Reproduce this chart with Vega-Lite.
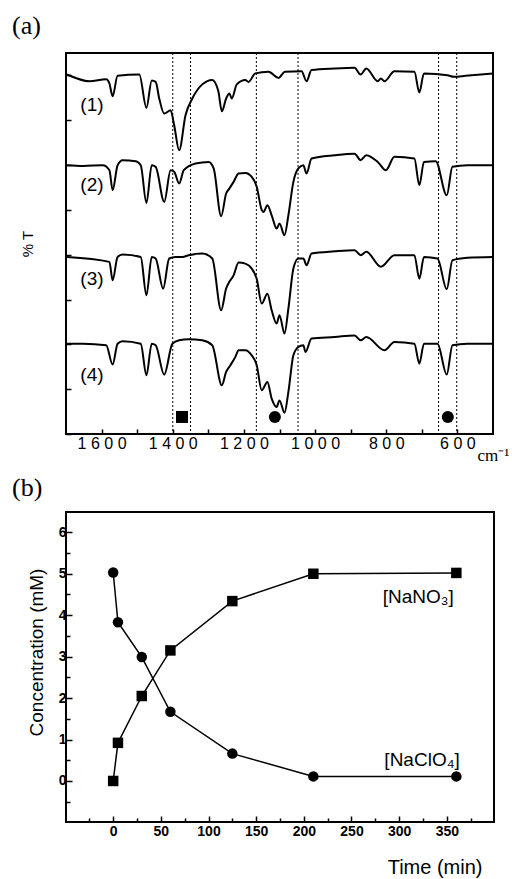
{
"$schema": "https://vega.github.io/schema/vega-lite/v6.json",
"padding": {"left": 11, "top": 11, "right": 0, "bottom": 0},
"spacing": 10,
"config": {"view": {"stroke": "black", "strokeWidth": 2}, "font": "Liberation Sans", "axis": {"grid": false, "domain": false, "tickColor": "black", "labelColor": "black", "titleColor": "black", "tickWidth": 1.5}},
"datasets": {
"spectra": [
{"s":"1","wn":1697,"t":16.04},{"s":"1","wn":1634,"t":15.74},{"s":"1","wn":1587,"t":15.83},{"s":"1","wn":1578,"t":15.64},{"s":"1","wn":1569,"t":15.07},{"s":"1","wn":1555,"t":15.98},{"s":"1","wn":1494,"t":16.04},{"s":"1","wn":1474,"t":14.55},{"s":"1","wn":1459,"t":15.77},{"s":"1","wn":1448,"t":15.71},{"s":"1","wn":1438,"t":14.97},{"s":"1","wn":1424,"t":14.30},{"s":"1","wn":1406,"t":14.44},{"s":"1","wn":1396,"t":13.78},{"s":"1","wn":1382,"t":12.66},{"s":"1","wn":1364,"t":14.23},{"s":"1","wn":1345,"t":14.97},{"s":"1","wn":1317,"t":15.6},{"s":"1","wn":1289,"t":15.8},{"s":"1","wn":1272,"t":15.3},{"s":"1","wn":1262,"t":14.4},{"s":"1","wn":1250,"t":14.97},{"s":"1","wn":1241,"t":15.19},{"s":"1","wn":1234,"t":14.97},{"s":"1","wn":1220,"t":15.6},{"s":"1","wn":1196,"t":15.79},{"s":"1","wn":1187,"t":15.71},{"s":"1","wn":1168,"t":16.09},{"s":"1","wn":1131,"t":16.16},{"s":"1","wn":1103,"t":15.89},{"s":"1","wn":1085,"t":16.16},{"s":"1","wn":1038,"t":16.19},{"s":"1","wn":1024,"t":15.74},{"s":"1","wn":1010,"t":16.24},{"s":"1","wn":945,"t":16.31},{"s":"1","wn":889,"t":16.34},{"s":"1","wn":872,"t":16.04},{"s":"1","wn":856,"t":16.31},{"s":"1","wn":824,"t":15.74},{"s":"1","wn":815,"t":15.86},{"s":"1","wn":805,"t":15.74},{"s":"1","wn":777,"t":16.19},{"s":"1","wn":721,"t":16.16},{"s":"1","wn":707,"t":15.24},{"s":"1","wn":694,"t":16.09},{"s":"1","wn":628,"t":16.01},{"s":"1","wn":610,"t":15.94},{"s":"1","wn":577,"t":15.98},{"s":"1","wn":500,"t":16.09},
{"s":"2","wn":1697,"t":11.99},{"s":"2","wn":1652,"t":11.96},{"s":"2","wn":1597,"t":11.99},{"s":"2","wn":1578,"t":11.77},{"s":"2","wn":1569,"t":10.88},{"s":"2","wn":1555,"t":11.99},{"s":"2","wn":1541,"t":12.22},{"s":"2","wn":1504,"t":12.17},{"s":"2","wn":1490,"t":11.99},{"s":"2","wn":1474,"t":10.31},{"s":"2","wn":1459,"t":11.99},{"s":"2","wn":1448,"t":11.92},{"s":"2","wn":1424,"t":10.36},{"s":"2","wn":1406,"t":11.77},{"s":"2","wn":1396,"t":11.70},{"s":"2","wn":1382,"t":11.18},{"s":"2","wn":1369,"t":11.77},{"s":"2","wn":1336,"t":12.07},{"s":"2","wn":1299,"t":12.14},{"s":"2","wn":1285,"t":11.85},{"s":"2","wn":1264,"t":9.72},{"s":"2","wn":1250,"t":10.73},{"s":"2","wn":1241,"t":10.95},{"s":"2","wn":1229,"t":11.25},{"s":"2","wn":1215,"t":11.62},{"s":"2","wn":1196,"t":11.65},{"s":"2","wn":1178,"t":11.47},{"s":"2","wn":1164,"t":11.03},{"s":"2","wn":1150,"t":10.0},{"s":"2","wn":1145,"t":9.91},{"s":"2","wn":1134,"t":10.21},{"s":"2","wn":1122,"t":9.76},{"s":"2","wn":1108,"t":9.17},{"s":"2","wn":1100,"t":9.39},{"s":"2","wn":1086,"t":8.87},{"s":"2","wn":1075,"t":9.76},{"s":"2","wn":1061,"t":11.25},{"s":"2","wn":1047,"t":11.85},{"s":"2","wn":1033,"t":11.99},{"s":"2","wn":1024,"t":11.62},{"s":"2","wn":1010,"t":12.29},{"s":"2","wn":945,"t":12.44},{"s":"2","wn":889,"t":12.51},{"s":"2","wn":872,"t":12.22},{"s":"2","wn":856,"t":12.44},{"s":"2","wn":824,"t":12.14},{"s":"2","wn":801,"t":11.77},{"s":"2","wn":777,"t":12.37},{"s":"2","wn":721,"t":12.29},{"s":"2","wn":707,"t":11.10},{"s":"2","wn":694,"t":12.14},{"s":"2","wn":661,"t":12.17},{"s":"2","wn":630,"t":10.65},{"s":"2","wn":614,"t":11.92},{"s":"2","wn":572,"t":11.99},{"s":"2","wn":500,"t":11.99},
{"s":"3","wn":1697,"t":7.90},{"s":"3","wn":1578,"t":7.68},{"s":"3","wn":1569,"t":6.86},{"s":"3","wn":1555,"t":7.90},{"s":"3","wn":1541,"t":8.01},{"s":"3","wn":1490,"t":7.90},{"s":"3","wn":1474,"t":6.19},{"s":"3","wn":1459,"t":7.90},{"s":"3","wn":1448,"t":7.83},{"s":"3","wn":1427,"t":6.49},{"s":"3","wn":1410,"t":7.83},{"s":"3","wn":1392,"t":7.90},{"s":"3","wn":1373,"t":7.90},{"s":"3","wn":1355,"t":7.98},{"s":"3","wn":1317,"t":8.05},{"s":"3","wn":1289,"t":7.83},{"s":"3","wn":1264,"t":5.52},{"s":"3","wn":1250,"t":6.49},{"s":"3","wn":1241,"t":6.79},{"s":"3","wn":1229,"t":7.08},{"s":"3","wn":1215,"t":7.65},{"s":"3","wn":1196,"t":7.60},{"s":"3","wn":1178,"t":7.38},{"s":"3","wn":1164,"t":6.93},{"s":"3","wn":1150,"t":5.82},{"s":"3","wn":1134,"t":6.26},{"s":"3","wn":1122,"t":5.52},{"s":"3","wn":1108,"t":4.93},{"s":"3","wn":1100,"t":5.30},{"s":"3","wn":1086,"t":4.48},{"s":"3","wn":1075,"t":5.60},{"s":"3","wn":1061,"t":7.38},{"s":"3","wn":1047,"t":7.83},{"s":"3","wn":1033,"t":7.83},{"s":"3","wn":1024,"t":7.53},{"s":"3","wn":1010,"t":8.05},{"s":"3","wn":945,"t":8.15},{"s":"3","wn":889,"t":8.20},{"s":"3","wn":872,"t":7.98},{"s":"3","wn":856,"t":8.13},{"s":"3","wn":815,"t":7.46},{"s":"3","wn":777,"t":7.98},{"s":"3","wn":721,"t":7.98},{"s":"3","wn":707,"t":6.93},{"s":"3","wn":694,"t":7.90},{"s":"3","wn":656,"t":7.83},{"s":"3","wn":630,"t":6.46},{"s":"3","wn":614,"t":7.75},{"s":"3","wn":572,"t":7.86},{"s":"3","wn":500,"t":7.90},
{"s":"4","wn":1697,"t":4.03},{"s":"4","wn":1652,"t":4.03},{"s":"4","wn":1587,"t":3.96},{"s":"4","wn":1569,"t":3.10},{"s":"4","wn":1555,"t":4.03},{"s":"4","wn":1541,"t":4.14},{"s":"4","wn":1490,"t":4.03},{"s":"4","wn":1474,"t":2.62},{"s":"4","wn":1459,"t":4.03},{"s":"4","wn":1448,"t":3.96},{"s":"4","wn":1424,"t":2.65},{"s":"4","wn":1401,"t":4.03},{"s":"4","wn":1382,"t":4.18},{"s":"4","wn":1355,"t":4.23},{"s":"4","wn":1317,"t":4.18},{"s":"4","wn":1289,"t":3.96},{"s":"4","wn":1262,"t":2.17},{"s":"4","wn":1250,"t":2.77},{"s":"4","wn":1238,"t":3.07},{"s":"4","wn":1224,"t":3.44},{"s":"4","wn":1215,"t":3.74},{"s":"4","wn":1196,"t":3.74},{"s":"4","wn":1178,"t":3.51},{"s":"4","wn":1164,"t":3.07},{"s":"4","wn":1150,"t":1.95},{"s":"4","wn":1134,"t":2.32},{"s":"4","wn":1122,"t":1.58},{"s":"4","wn":1108,"t":1.21},{"s":"4","wn":1100,"t":1.50},{"s":"4","wn":1086,"t":0.95},{"s":"4","wn":1075,"t":1.88},{"s":"4","wn":1061,"t":3.51},{"s":"4","wn":1047,"t":3.88},{"s":"4","wn":1033,"t":3.96},{"s":"4","wn":1027,"t":3.66},{"s":"4","wn":1010,"t":4.26},{"s":"4","wn":945,"t":4.33},{"s":"4","wn":889,"t":4.40},{"s":"4","wn":872,"t":4.18},{"s":"4","wn":856,"t":4.33},{"s":"4","wn":805,"t":3.74},{"s":"4","wn":777,"t":4.11},{"s":"4","wn":721,"t":4.03},{"s":"4","wn":707,"t":3.14},{"s":"4","wn":694,"t":4.03},{"s":"4","wn":656,"t":4.03},{"s":"4","wn":630,"t":2.65},{"s":"4","wn":614,"t":3.96},{"s":"4","wn":572,"t":4.03},{"s":"4","wn":500,"t":4.03}
],
"kinetics": [
{"time":0,"c":0,"sp":"NaNO3"},{"time":5,"c":0.92,"sp":"NaNO3"},{"time":30,"c":2.05,"sp":"NaNO3"},{"time":60,"c":3.15,"sp":"NaNO3"},{"time":125,"c":4.34,"sp":"NaNO3"},{"time":210,"c":5.0,"sp":"NaNO3"},{"time":360,"c":5.02,"sp":"NaNO3"},
{"time":0,"c":5.03,"sp":"NaClO4"},{"time":5,"c":3.83,"sp":"NaClO4"},{"time":30,"c":2.99,"sp":"NaClO4"},{"time":60,"c":1.67,"sp":"NaClO4"},{"time":125,"c":0.66,"sp":"NaClO4"},{"time":210,"c":0.11,"sp":"NaClO4"},{"time":360,"c":0.11,"sp":"NaClO4"}
]
},
"vconcat": [
{
"width": 427, "height": 381,
"title": {"text": "(a)", "anchor": "start", "frame": "group", "dx": -54, "offset": 14, "font": "Liberation Serif", "fontSize": 26, "fontWeight": "normal", "color": "black"},
"layer": [
{"data": {"name": "spectra"}, "mark": {"type": "line", "color": "black", "strokeWidth": 2, "interpolate": "monotone"},
 "encoding": {
  "x": {"field": "wn", "type": "quantitative", "scale": {"domain": [500, 1700], "reverse": true, "nice": false}, "axis": {"values": [600,700,800,900,1000,1100,1200,1300,1400,1500,1600], "labelExpr": "datum.value % 200 == 0 ? join(split(format(datum.value, 'd'), ''), ' ') : ''", "labelOverlap": false, "tickSize": -5, "labelFontSize": 16, "labelPadding": 6, "title": "cm⁻¹", "titleFont": "Liberation Serif", "titleFontSize": 17, "titleFontWeight": "normal", "titleX": 411, "titleY": 26, "titleAlign": "left", "titleBaseline": "alphabetic"}},
  "y": {"field": "t", "type": "quantitative", "scale": {"domain": [0, 17], "nice": false}, "axis": {"values": [0,1,2,3,4,5,6,7,8,9,10,11,12,13,14,15,16,17], "labels": false, "tickSize": -5, "title": "% T", "titleFontSize": 15, "titleFontWeight": "normal", "titlePadding": 30}},
  "detail": {"field": "s"}
 }},
{"data": {"values": [{"wn": 1400}, {"wn": 1350}, {"wn": 1165}, {"wn": 1048}, {"wn": 653}, {"wn": 602}]}, "mark": {"type": "rule", "color": "black", "strokeWidth": 1, "strokeDash": [2, 2]},
 "encoding": {"x": {"field": "wn", "type": "quantitative"}}},
{"data": {"values": [{"wn": 1374, "t": 0.76, "ion": "NO3"}, {"wn": 1113, "t": 0.76, "ion": "ClO4"}, {"wn": 627, "t": 0.76, "ion": "ClO4"}]}, "mark": {"type": "point", "filled": true, "color": "black", "opacity": 1, "size": 144},
 "encoding": {"x": {"field": "wn", "type": "quantitative"}, "y": {"field": "t", "type": "quantitative"}, "shape": {"field": "ion", "type": "nominal", "scale": {"domain": ["NO3", "ClO4"], "range": ["square", "circle"]}, "legend": null}}},
{"data": {"values": [{"wn": 1627, "t": 14.67, "lab": "(1)"}, {"wn": 1627, "t": 11.1, "lab": "(2)"}, {"wn": 1627, "t": 6.9, "lab": "(3)"}, {"wn": 1627, "t": 2.62, "lab": "(4)"}]}, "mark": {"type": "text", "font": "Liberation Sans", "fontSize": 19, "color": "black", "align": "center", "baseline": "middle"},
 "encoding": {"x": {"field": "wn", "type": "quantitative"}, "y": {"field": "t", "type": "quantitative"}, "text": {"field": "lab"}}}
]
},
{
"width": 428, "height": 310,
"title": {"text": "(b)", "anchor": "start", "frame": "group", "dx": -54, "offset": 11, "font": "Liberation Serif", "fontSize": 26, "fontWeight": "normal", "color": "black"},
"resolve": {"axis": {"x": "independent", "y": "independent"}},
"layer": [
{"data": {"name": "kinetics"}, "mark": {"type": "line", "color": "black", "strokeWidth": 1.5},
 "encoding": {
  "x": {"field": "time", "type": "quantitative", "scale": {"domain": [-49.5, 399.5], "nice": false, "zero": false}, "axis": {"tickCount": 8, "format": "d", "tickSize": -6, "labelFontSize": 14, "labelFontWeight": "bold", "labelPadding": 8, "title": "Time (min)", "titleFontSize": 20, "titleFontWeight": "normal", "titleX": 416, "titleY": 45, "titleAlign": "right", "titleBaseline": "middle"}},
  "y": {"field": "c", "type": "quantitative", "scale": {"domain": [-0.99, 6.49], "nice": false, "zero": false}, "axis": {"tickCount": 7, "format": "d", "tickSize": -6, "labelFontSize": 14, "labelFontWeight": "bold", "labelPadding": 6, "title": "Concentration (mM)", "titleFontSize": 19, "titleFontWeight": "normal", "titlePadding": 12, "titleY": 140}},
  "detail": {"field": "sp"}
 }},
{"data": {"name": "kinetics"}, "mark": {"type": "point", "filled": true, "color": "black", "opacity": 1, "size": 110},
 "encoding": {"x": {"field": "time", "type": "quantitative", "axis": {"values": [-25,25,75,125,175,225,275,325,375], "labels": false, "tickSize": -4, "title": null, "orient": "bottom"}}, "y": {"field": "c", "type": "quantitative", "axis": {"values": [-0.5,0.5,1.5,2.5,3.5,4.5,5.5], "labels": false, "tickSize": -4, "title": null, "orient": "left"}}, "shape": {"field": "sp", "type": "nominal", "scale": {"domain": ["NaNO3", "NaClO4"], "range": ["square", "circle"]}, "legend": null}}},
{"data": {"values": [{"time": 320, "c": 4.43, "lab": "[NaNO₃]"}, {"time": 324, "c": 0.5, "lab": "[NaClO₄]"}]}, "mark": {"type": "text", "font": "Liberation Sans", "fontSize": 19, "color": "black", "align": "center", "baseline": "middle"},
 "encoding": {"x": {"field": "time", "type": "quantitative", "axis": null}, "y": {"field": "c", "type": "quantitative", "axis": null}, "text": {"field": "lab"}}}
]
}
]
}
